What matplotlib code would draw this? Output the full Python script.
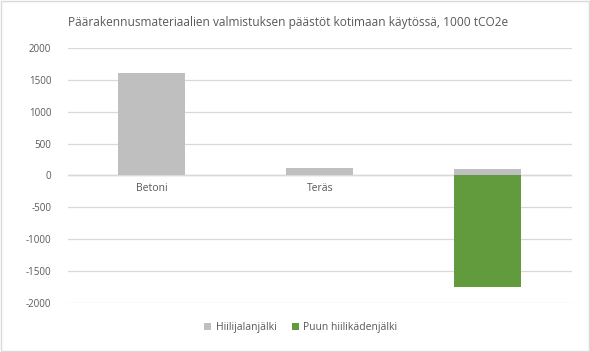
import matplotlib.pyplot as plt
import numpy as np

# Data
materials = ['Betoni', 'Teräs', 'Puu']
footprint = [1600, 110, 95]          # Hiilijalanjälki
handprint = [0, 0, -1750]            # Puun hiilikädenjälki
yticks = [-2000, -1500, -1000, -500, 0, 500, 1000, 1500, 2000]

plt.rcParams['font.family'] = ['Open Sans', 'DejaVu Sans']
text_col = '#595959'

fig = plt.figure(figsize=(5.9, 3.52), dpi=100)
ax = fig.add_axes([0.115, 0.139, 0.854, 0.725])

x = np.arange(len(materials))
ax.bar(x, footprint, width=0.4, color='#bfbfbf', zorder=3, label='Hiilijalanjälki')
ax.bar(x[2:], handprint[2:], width=0.4, color='#629a3e', zorder=3, label='Puun hiilikädenjälki')

for xi, name in zip(x, materials):
    ax.text(xi, -120, name, ha='center', va='top', fontsize=7.5, color=text_col, zorder=2)

ax.set_xlim(-0.5, 2.5)
ax.set_ylim(-2000, 2000)
ax.set_yticks(yticks)
ax.set_yticklabels([str(v) for v in yticks], fontsize=7, color=text_col)
ax.tick_params(axis='y', length=0, pad=12)
ax.set_xticks([])
ax.grid(axis='y', color='#d9d9d9', linewidth=0.9, zorder=0)
ax.axhline(0, color='#d0d0d0', linewidth=1.0, zorder=1)
for s in ax.spines.values():
    s.set_visible(False)

fig.text(0.115, 0.935, 'Päärakennusmateriaalien valmistuksen päästöt kotimaan käytössä, 1000 tCO2e',
         fontsize=8.6, color=text_col, ha='left', va='center')

fig.legend(loc='center', bbox_to_anchor=(0.51, 0.07), ncol=2, frameon=False,
           fontsize=7.5, labelcolor=text_col, handlelength=0.7, handleheight=0.7,
           handletextpad=0.4, columnspacing=1.5)

fig.patches.append(plt.Rectangle((0.002, 0.003), 0.996, 0.994, transform=fig.transFigure,
                                 fill=False, edgecolor='#d9d9d9', linewidth=1))

plt.savefig('out.png', dpi=100)
